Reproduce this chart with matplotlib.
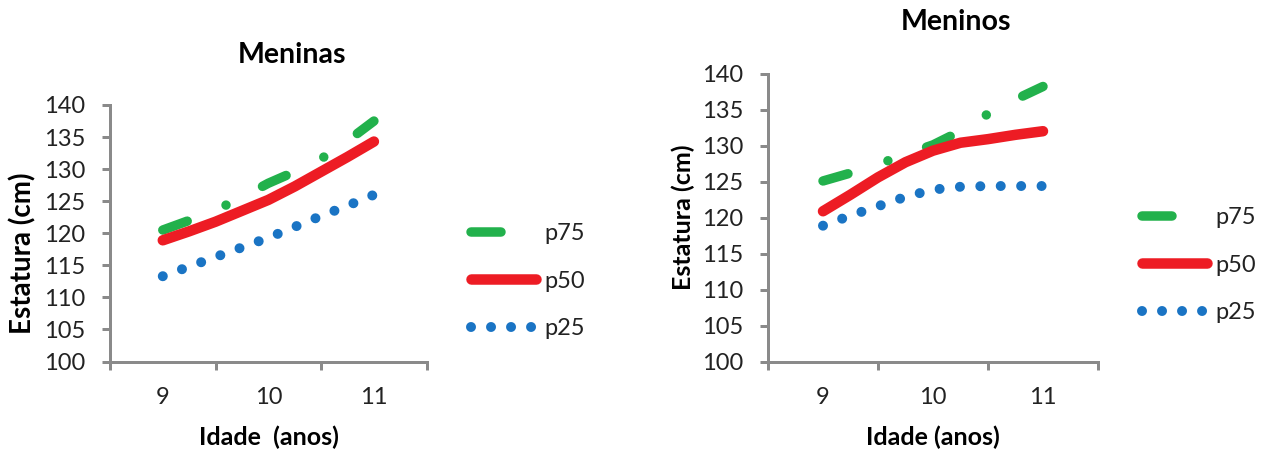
import matplotlib
matplotlib.use("Agg")
import matplotlib.pyplot as plt
from matplotlib.lines import Line2D

plt.rcParams['font.family'] = ['Lato', 'DejaVu Sans']
plt.rcParams['lines.scale_dashes'] = False

# ---- data ----
ages = [9, 9.25, 9.5, 9.75, 10, 10.25, 10.5, 10.75, 11]
tick_ages = [9, 10, 11]
y_ticks = [100, 105, 110, 115, 120, 125, 130, 135, 140]

girls_p75 = [120.5, 122.0, 123.6, 125.6, 127.8, 129.6, 131.6, 134.4, 137.5]
girls_p50 = [118.9, 120.3, 121.8, 123.5, 125.2, 127.3, 129.6, 131.9, 134.3]
girls_p25 = [113.3, 114.8, 116.3, 117.8, 119.3, 121.0, 122.7, 124.3, 126.0]

boys_p75 = [125.1, 126.2, 127.4, 128.8, 130.1, 132.0, 134.4, 136.4, 138.2]
boys_p50 = [120.9, 123.2, 125.6, 127.7, 129.3, 130.4, 130.9, 131.5, 132.0]
boys_p25 = [118.9, 120.3, 121.6, 122.9, 123.9, 124.3, 124.4, 124.4, 124.4]

series_labels = ['p75', 'p50', 'p25']

GREEN = '#22b14c'
RED = '#ed1c24'
BLUE = '#1a74c4'
GRAY = '#8a8a8a'

px = 0.72  # points per pixel at dpi 100

fig = plt.figure(figsize=(12.72, 4.53), dpi=100)

def style_axes(ax):
    ax.set_xlim(8.5, 11.5)
    ax.set_ylim(100, 140)
    for s in ['top', 'right']:
        ax.spines[s].set_visible(False)
    for s in ['left', 'bottom']:
        ax.spines[s].set_color(GRAY)
        ax.spines[s].set_linewidth(3 * px)
    ax.set_yticks(y_ticks)
    ax.set_xticks(tick_ages)
    ax.set_xticks([8.5, 9.5, 10.5, 11.5], minor=True)
    ax.tick_params(axis='x', which='major', length=0, pad=18, labelsize=17, labelcolor='#222222')
    ax.tick_params(axis='x', which='minor', length=8 * px, width=3 * px, color=GRAY, direction='out')
    ax.tick_params(axis='y', which='major', length=8 * px, width=3 * px, color=GRAY, direction='out',
                   pad=12, labelsize=17, labelcolor='#222222')
    ax.set_facecolor('none')

def draw_series(ax, p75, p50, p25):
    ax.plot(ages, p50, color=RED, lw=10.5 * px, solid_capstyle='round', solid_joinstyle='round', zorder=3)
    ax.plot(ages, p75, color=GREEN, lw=9.5 * px, dash_capstyle='round', zorder=2,
            linestyle=(0, (26 * px, 42 * px, 0.01, 41 * px)))
    ax.plot(ages, p25, color=BLUE, lw=10 * px, dash_capstyle='round', zorder=2,
            linestyle=(0, (0.01, 20.4 * px)))

def legend(ax, x_px, y_px):
    h75 = Line2D([0], [0], color=GREEN, lw=9.5 * px, dash_capstyle='round',
                 linestyle=(0, (30 * px, 80 * px)))
    h50 = Line2D([0], [0], color=RED, lw=10.5 * px, solid_capstyle='round')
    h25 = Line2D([0], [0], color=BLUE, lw=10 * px, dash_capstyle='round',
                 linestyle=(0, (0.01, 20 * px)))
    ax.legend([h75, h50, h25], series_labels, loc='center left',
              bbox_to_anchor=(x_px / 1272, 1 - y_px / 453), bbox_transform=fig.transFigure,
              frameon=False, fontsize=17, handlelength=2.75, handletextpad=0.35,
              labelspacing=1.12, borderpad=0, borderaxespad=0, labelcolor='#222222')

# ---- left: Meninas ----
ax1 = fig.add_axes([110 / 1272, 1 - 361.5 / 453, 316.7 / 1272, 256.5 / 453])
style_axes(ax1)
draw_series(ax1, girls_p75, girls_p50, girls_p25)
legend(ax1, 471, 281)
fig.text(292 / 1272, 1 - 55 / 453, 'Meninas', ha='center', va='center', fontsize=20.5, fontweight='bold')
fig.text(23 / 1272, 1 - 253 / 453, 'Estatura (cm)', ha='center', va='center', rotation=90,
         fontsize=20, fontweight='bold')
fig.text(269 / 1272, 1 - 437 / 453, 'Idade  (anos)', ha='center', va='center', fontsize=18, fontweight='bold')

# ---- right: Meninos ----
ax2 = fig.add_axes([768 / 1272, 1 - 362 / 453, 330 / 1272, 288.5 / 453])
style_axes(ax2)
draw_series(ax2, boys_p75, boys_p50, boys_p25)
legend(ax2, 1142, 265)
fig.text(956 / 1272, 1 - 22 / 453, 'Meninos', ha='center', va='center', fontsize=20.5, fontweight='bold')
fig.text(683 / 1272, 1 - 217 / 453, 'Estatura (cm)', ha='center', va='center', rotation=90,
         fontsize=18, fontweight='bold')
fig.text(933 / 1272, 1 - 437 / 453, 'Idade (anos)', ha='center', va='center', fontsize=18, fontweight='bold')

fig.savefig('out.png', dpi=100, facecolor='white')
